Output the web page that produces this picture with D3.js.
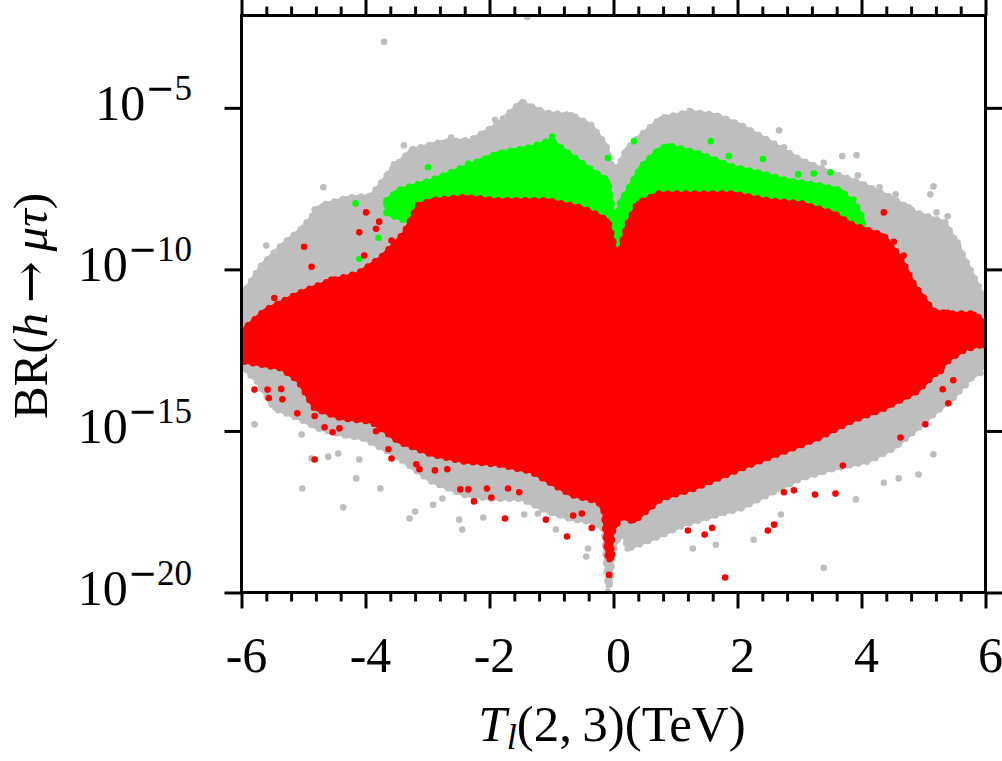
<!DOCTYPE html>
<html><head><meta charset="utf-8">
<script src="https://cdn.jsdelivr.net/npm/d3@7"></script>
<style>body{margin:0;background:#fff}svg{display:block}</style>
</head><body>
<svg id="chart" width="1002" height="761"></svg>
<script>
// ---- data (x in TeV, BR values) ----
const xTickValues = [-6, -4, -2, 0, 2, 4, 6];
const xTickLabels = ["-6", "-4", "-2", "0", "2", "4", "6"];
const yTickValues = [1e-5, 1e-10, 1e-15, 1e-20];
const yTickExponents = ["5", "10", "15", "20"];

// envelopes of the dense point clouds
const grayUpper = [[-6.0,1.5e-11],[-5.68,1.3e-10],[-5.36,5.4e-10],[-5.03,1.8e-9],[-4.71,9.5e-9],[-4.31,1.6e-8],[-3.91,1.9e-8],[-3.58,1.2e-7],[-3.26,4.9e-7],[-2.78,8.7e-7],[-2.30,1.0e-6],[-1.89,2.9e-6],[-1.49,1.5e-5],[-1.09,6.9e-6],[-0.68,5.9e-6],[-0.36,2.9e-6],[-0.12,6.9e-7],[-0.01,1.2e-7],[0.09,1.7e-7],[0.20,4.9e-7],[0.44,1.4e-6],[0.77,4.8e-6],[1.25,7.4e-6],[1.65,5.9e-6],[2.05,2.9e-6],[2.54,8.7e-7],[3.02,2.4e-7],[3.50,1.0e-7],[3.99,4.6e-8],[4.47,1.7e-8],[4.87,5.8e-9],[5.35,2.8e-9],[5.60,3.8e-10],[5.84,4.5e-11],[6.0,1.1e-11]];
const grayLower = [[-6.0,1.0e-13],[-5.75,3.5e-14],[-5.47,5.0e-15],[-5.08,2.5e-15],[-4.76,1.2e-15],[-4.39,7.8e-16],[-4.02,5.8e-16],[-3.63,2.3e-16],[-3.38,1.15e-16],[-2.94,2.8e-17],[-2.41,1.07e-17],[-1.97,8.1e-18],[-1.49,8.1e-18],[-1.06,3.2e-18],[-0.68,1.9e-18],[-0.36,1.55e-18],[-0.15,9.3e-19],[-0.12,1.0e-19],[-0.09,1.5e-20],[-0.05,2.0e-20],[-0.02,1.5e-19],[0.05,4.0e-19],[0.17,6.2e-19],[0.23,2.3e-19],[0.65,4.7e-19],[1.14,1.26e-18],[1.68,2.6e-18],[2.05,4.0e-18],[2.49,1.07e-17],[3.02,3.4e-17],[3.55,6.9e-17],[4.10,1.15e-16],[4.52,2.9e-16],[4.90,1.2e-15],[5.16,3.3e-15],[5.48,1.05e-14],[5.71,3.5e-14],[5.92,7.1e-14],[6.0,1.45e-13]];
const greenUpper = [[-3.66,1.35e-8],[-3.47,2.8e-8],[-2.94,5.6e-8],[-2.41,1.45e-7],[-1.86,3.9e-7],[-1.33,6.0e-7],[-1.01,1.0e-6],[-0.80,4.9e-7],[-0.36,1.2e-7],[-0.09,5.6e-8],[0.02,2.3e-9],[0.12,1.35e-8],[0.23,2.8e-8],[0.44,1.45e-7],[0.72,4.9e-7],[0.88,6.9e-7],[1.36,3.9e-7],[1.94,1.45e-7],[2.38,9.3e-8],[2.81,5.6e-8],[3.29,4.0e-8],[3.66,2.8e-8],[3.91,9.5e-9],[4.02,3.7e-9]];
const greenLower = [[-3.66,5.4e-9],[-3.3,3.0e-9],[-3.0,2.0e-9],[-1.0,2.0e-9],[-0.2,1.5e-9],[0.0,3.2e-10],[0.1,5.0e-10],[0.3,2.0e-9],[3.5,2.0e-9],[3.9,1.5e-9],[4.02,1.5e-9]];
const redUpper = [[-6.0,1.2e-12],[-5.63,5.2e-12],[-5.08,1.8e-11],[-4.55,4.5e-11],[-4.12,7.4e-11],[-3.75,2.3e-10],[-3.38,1.3e-9],[-3.15,9.5e-9],[-2.94,1.35e-8],[-2.41,1.7e-8],[-1.86,1.35e-8],[-1.44,1.35e-8],[-1.06,1.35e-8],[-0.52,8.1e-9],[-0.25,4.7e-9],[-0.09,3.2e-9],[-0.01,7.8e-10],[0.07,1.6e-10],[0.15,7.8e-10],[0.23,2.6e-9],[0.39,1.1e-8],[0.72,2.2e-8],[1.14,2.2e-8],[1.94,2.2e-8],[2.49,1.35e-8],[3.02,1.1e-8],[3.55,5.4e-9],[3.87,2.3e-9],[4.36,1.1e-9],[4.63,2.3e-10],[4.84,3.5e-11],[5.16,5.1e-12],[5.44,4.2e-12],[5.81,4.2e-12],[6.0,2.2e-12]];
const redLower = [[-6.0,1.45e-13],[-5.36,8.9e-14],[-5.08,3.5e-14],[-4.82,5.0e-15],[-4.39,2.5e-15],[-3.91,2.0e-15],[-3.47,4.8e-16],[-2.94,1.9e-16],[-2.41,1.15e-16],[-1.86,9.3e-17],[-1.33,5.6e-17],[-1.06,2.8e-17],[-0.68,1.07e-17],[-0.25,6.6e-18],[-0.15,3.2e-18],[-0.11,3.0e-19],[-0.08,1.0e-19],[-0.05,1.0e-19],[-0.02,7.6e-19],[0.12,2.2e-18],[0.33,1.6e-18],[0.77,8.1e-18],[1.30,1.66e-17],[1.68,3.4e-17],[2.22,9.3e-17],[2.75,2.3e-16],[3.29,5.9e-16],[3.83,2.0e-15],[4.36,5.0e-15],[4.90,1.7e-14],[5.44,1.8e-13],[5.71,3.7e-13],[6.0,4.9e-13]];

// isolated points outside the dense clouds
const grayPoints = [[-3.70,1.1e-3],[-1.39,6.5e-3],[-4.68,3.5e-8],[-5.60,5.5e-10],[-5.44,2.3e-10],[-5.32,2.5e-11],[-5.00,1.95e-9],[-4.82,7.1e-9],[-4.62,7.1e-9],[-4.41,1.2e-8],[-3.87,1.6e-8],[-3.68,7.8e-9],[-3.62,9.3e-8],[-3.54,1.8e-7],[-3.38,6.9e-7],[-3.23,5.2e-7],[-2.86,4.6e-7],[-2.62,1.2e-6],[-2.31,6.0e-7],[-2.09,1.07e-6],[-1.91,4.2e-6],[-1.46,1.5e-5],[-0.44,2.9e-6],[-0.68,5.9e-6],[1.23,7.9e-6],[2.05,2.5e-6],[2.67,2.0e-6],[2.75,6.0e-7],[3.39,2.0e-7],[3.69,3.2e-7],[3.92,3.4e-7],[3.94,8.1e-8],[4.29,3.5e-8],[4.55,2.1e-8],[4.76,8.3e-9],[5.16,3.7e-8],[5.11,2.1e-8],[5.21,5.8e-9],[5.39,4.4e-9],[5.34,8.9e-10],[5.55,6.8e-10],[5.57,2.7e-10],[5.68,6.3e-11],[5.95,1.4e-11],
  [-5.79,1.6e-15],[-5.03,7.8e-16],[-4.87,1.4e-16],[-4.60,1.6e-16],[-4.44,2.0e-16],[-4.10,1.3e-16],[-4.15,3.4e-17],[-5.02,1.66e-17],[-4.36,4.3e-18],[-3.76,1.66e-17],[-3.29,1.95e-18],[-3.20,3.2e-18],[-2.91,5.2e-18],[-2.76,8.1e-18],[-2.49,1.8e-18],[-2.44,8.9e-19],[-2.10,2.1e-18],[-1.44,2.6e-18],[-1.22,2.8e-18],[-0.93,8.9e-19],[-0.41,2.3e-19],[-0.44,1.3e-19],[-0.09,1.05e-20],[0.23,2.3e-19],[1.28,2.3e-19],[1.65,3.0e-19],[2.26,4.3e-19],[3.39,5.8e-20],[2.70,2.6e-18],[3.91,7.6e-18],[4.36,2.5e-17],[4.60,3.4e-17],[4.92,4.5e-17],[5.16,1.9e-16],[5.68,2.6e-14],[5.92,6.2e-14],[-0.07,7.8e-20]];
const greenPoints = [[-4.16,1.1e-8],[-3.79,9.5e-10],[-4.10,2.1e-10],[-2.99,1.45e-7],[-2.34,1.9e-7],[-0.99,1.3e-6],[-0.09,2.8e-7],[0.33,9.3e-7],[1.57,9.3e-7],[1.86,3.2e-7],[2.41,2.6e-7],[2.98,8.7e-8],[3.23,9.3e-8],[3.50,1.0e-7],[3.87,1.45e-8],[3.97,3.5e-9],[4.29,3.0e-10]];
const redPoints = [[-3.99,5.8e-9],[-4.10,1.4e-9],[-3.78,3.0e-9],[-3.83,1.8e-9],[-4.99,5.0e-10],[-4.87,1.2e-10],[-4.55,4.8e-11],[-5.47,1.3e-11],[-3.58,7.8e-10],[-4.02,2.7e-10],[-3.68,2.0e-10],[-5.81,2.2e-12],[-5.92,8.1e-13],[-5.79,1.9e-14],[-5.58,1.9e-14],[-5.56,1.05e-14],[-5.34,9.5e-15],[-5.36,2.0e-14],[-5.10,3.5e-15],[-4.82,2.9e-15],[-4.82,1.3e-16],[-4.66,1.3e-15],[-4.53,9.1e-16],[-4.42,1.2e-15],[-3.83,9.8e-16],[-3.63,2.7e-16],[-3.58,1.4e-16],[-3.18,9.3e-17],[-3.13,6.5e-17],[-2.88,6.0e-17],[-2.68,6.5e-17],[-2.47,1.55e-17],[-2.34,1.55e-17],[-2.25,6.6e-18],[-2.04,1.66e-17],[-1.97,8.7e-18],[-1.75,1.95e-18],[-1.70,1.66e-17],[-1.52,1.26e-17],[-1.09,1.8e-18],[-0.75,5.4e-19],[-0.65,2.4e-18],[-0.51,2.8e-18],[-0.35,1.0e-18],[-0.07,3.5e-20],[-0.02,1.5e-19],[1.80,2.9e-20],[1.20,8.3e-19],[1.47,6.2e-19],[1.59,1.0e-18],[2.49,8.3e-19],[2.59,1.26e-18],[2.75,1.26e-17],[2.91,1.45e-17],[3.25,1.07e-17],[3.58,1.15e-17],[3.70,8.5e-17],[5.03,1.6e-15],[4.63,6.3e-16],[5.40,7.2e-15],[5.31,1.95e-14],[5.48,3.7e-14],[5.63,3.9e-12],[5.81,3.9e-12],[5.95,2.4e-12],[6.0,4.3e-13],[5.76,3.7e-13],[4.36,5.8e-9],[4.52,7.2e-10],[4.68,2.7e-10],[4.84,3.1e-11],[4.36,8.9e-10],[4.55,1.5e-10],[5.39,4.5e-12],[5.28,7.1e-14]];

// ---- drawing ----
const svg = d3.select("#chart");
const FONT = "'Liberation Serif','Times New Roman',serif";
const L = 241.5, R = 985.5, T = 15.5, B = 592.5;
const x = d3.scaleLinear().domain([-6, 6]).range([L, R]);
const y = d3.scaleLog().domain([1e-20, 7.2e-3]).range([B, T]);
const GRAY = "#bebebe", GREEN = "#00ff00", RED = "#ff0000";

svg.append("clipPath").attr("id", "clip").append("rect")
  .attr("x", L).attr("y", T).attr("width", R - L).attr("height", B - T);
const plot = svg.append("g").attr("clip-path", "url(#clip)");

const line = d3.line().x(d => x(d[0])).y(d => y(d[1]));
function cloud(upper, lower, color) {
  const poly = upper.concat(lower.slice().reverse());
  const d = line(poly) + "Z";
  plot.append("path").attr("d", d)
    .attr("fill", color).attr("stroke", color)
    .attr("stroke-width", 4).attr("stroke-linejoin", "round");
  // scalloped, dotty edge
  plot.append("path").attr("d", d).attr("fill", "none").attr("stroke", color)
    .attr("stroke-width", 7).attr("stroke-linecap", "round")
    .attr("stroke-dasharray", "0 9");
}
function dots(data, color) {
  plot.append("g").selectAll("circle").data(data).join("circle")
    .attr("cx", d => x(d[0])).attr("cy", d => y(d[1])).attr("r", 3.3)
    .attr("fill", color);
}
cloud(grayUpper, grayLower, GRAY);
dots(grayPoints, GRAY);
cloud(greenUpper, greenLower, GREEN);
dots(greenPoints, GREEN);
cloud(redUpper, redLower, RED);
dots(redPoints, RED);

// axes
const minorX = d3.range(-6, 6.001, 0.4).map(v => +v.toFixed(2)).filter(v => !xTickValues.includes(v));
function styleAxis(g) {
  g.select(".domain").remove();
  g.selectAll("line").attr("stroke", "#000").attr("stroke-width", 3);
  g.selectAll("text").remove();
}
svg.append("g").attr("transform", `translate(0,${B})`)
  .call(d3.axisBottom(x).tickValues(xTickValues).tickSize(16).tickSizeOuter(0)).call(styleAxis);
svg.append("g").attr("transform", `translate(0,${B})`)
  .call(d3.axisBottom(x).tickValues(minorX).tickSize(9).tickSizeOuter(0)).call(styleAxis);
svg.append("g").attr("transform", `translate(0,${T})`)
  .call(d3.axisTop(x).tickValues(xTickValues).tickSize(16).tickSizeOuter(0)).call(styleAxis);
svg.append("g").attr("transform", `translate(0,${T})`)
  .call(d3.axisTop(x).tickValues(minorX).tickSize(9).tickSizeOuter(0)).call(styleAxis);
svg.append("g").attr("transform", `translate(${L},0)`)
  .call(d3.axisLeft(y).tickValues(yTickValues).tickSize(17).tickSizeOuter(0)).call(styleAxis);
svg.append("g").attr("transform", `translate(${R},0)`)
  .call(d3.axisRight(y).tickValues(yTickValues).tickSize(17).tickSizeOuter(0)).call(styleAxis);

svg.append("rect").attr("x", L).attr("y", T).attr("width", R - L).attr("height", B - T)
  .attr("fill", "none").attr("stroke", "#000").attr("stroke-width", 3);

// tick labels
svg.append("g").selectAll("text").data(xTickValues).join("text")
  .attr("x", d => x(d) + 5).attr("y", 672).attr("text-anchor", "middle")
  .attr("font-family", FONT).attr("font-size", 50)
  .text((d, i) => xTickLabels[i]);

const yl = svg.append("g").selectAll("text").data(yTickValues).join("text")
  .attr("x", 192).attr("y", d => y(d) + 12).attr("text-anchor", "end")
  .attr("font-family", FONT).attr("font-size", 50);
yl.append("tspan").text("10");
yl.append("tspan").attr("font-size", 35).attr("dy", -20).attr("font-family", "'DejaVu Serif',serif")
  .attr("font-weight", 200).text("\u2212");
yl.append("tspan").attr("font-size", 35).text((d, i) => yTickExponents[i]);

// axis titles
const xt = svg.append("text").attr("x", 612).attr("y", 741).attr("text-anchor", "middle")
  .attr("font-family", FONT).attr("font-size", 51);
xt.append("tspan").attr("font-style", "italic").text("T");
xt.append("tspan").attr("font-style", "italic").attr("font-size", 36).attr("dy", 8).text("l");
xt.append("tspan").attr("dy", -8).text("(2,\u20093)(TeV)");

const yt = svg.append("text").attr("transform", "translate(47,306) rotate(-90)")
  .attr("text-anchor", "middle").attr("font-family", FONT).attr("font-size", 49);
yt.append("tspan").text("BR(");
yt.append("tspan").attr("font-style", "italic").text("h");
yt.append("tspan").text("\u2009");
yt.append("tspan").attr("font-family", "'DejaVu Serif',serif").attr("font-size", 50).text("\u2192");
yt.append("tspan").text("\u2009");
yt.append("tspan").attr("font-style", "italic").text("\u03bc\u03c4");
yt.append("tspan").text(")");
</script>
</body></html>
